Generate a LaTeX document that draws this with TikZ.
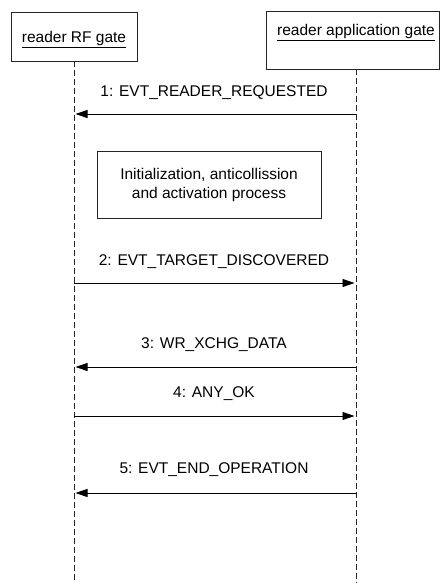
\documentclass[tikz,border=0pt]{standalone}
\usepackage{fontspec}
\setmainfont{Liberation Sans}
\usetikzlibrary{arrows.meta}
\begin{document}
\begin{tikzpicture}[x=1pt,y=-1pt,
  objbox/.style={draw=black!85,line width=0.8pt,inner sep=0pt},
  lifeline/.style={draw=black!85,line width=0.8pt,dash pattern=on 6pt off 3pt},
  msg/.style={line width=0.9pt,-{Triangle[length=12pt,width=8pt]},shorten >=1.5pt},
  lbl/.style={font=\fontsize{15.5}{18}\selectfont,inner sep=0pt},
  hdr/.style={font=\fontsize{15.5}{18}\selectfont,inner sep=0pt,anchor=base}]
\useasboundingbox (0,0) rectangle (440,583);
\node[objbox,minimum width=126pt,minimum height=49pt] (rf) at (74,36.5) {};
\node[hdr] (rftxt) at (74,43) {\underline{reader RF gate}};
\node[objbox,minimum width=173pt,minimum height=58pt] (app) at (352.5,40) {};
\node[hdr] (apptxt) at (356,36) {\underline{reader application gate}};
\coordinate (rfend) at (74,583);
\coordinate (append) at (356,583);
\draw[lifeline] (74,61) -- (rfend);
\draw[lifeline] (356,69) -- (append);
% messages
\coordinate (a1) at (356,114); \coordinate (b1) at (74,114);
\draw[msg] (a1) -- (b1);
\node[lbl] (l1) at (214,93) {1: EVT\_READER\_REQUESTED};
\node[objbox,minimum width=224pt,minimum height=67pt,align=center,font=\fontsize{15.5}{19}\selectfont] (proc) at (209,184.5) {Initialization, anticollission\\and activation process};
\coordinate (a2) at (74,283); \coordinate (b2) at (356,283);
\draw[msg] (a2) -- (b2);
\node[lbl] (l2) at (214,262) {2: EVT\_TARGET\_DISCOVERED};
\coordinate (a3) at (356,367); \coordinate (b3) at (74,367);
\draw[msg] (a3) -- (b3);
\node[lbl] (l3) at (214,345) {3: WR\_XCHG\_DATA};
\coordinate (a4) at (74,416); \coordinate (b4) at (356,416);
\draw[msg] (a4) -- (b4);
\node[lbl] (l4) at (214,394) {4: ANY\_OK};
\coordinate (a5) at (356,493); \coordinate (b5) at (74,493);
\draw[msg] (a5) -- (b5);
\node[lbl] (l5) at (214,470) {5: EVT\_END\_OPERATION};
\end{tikzpicture}
\end{document}
